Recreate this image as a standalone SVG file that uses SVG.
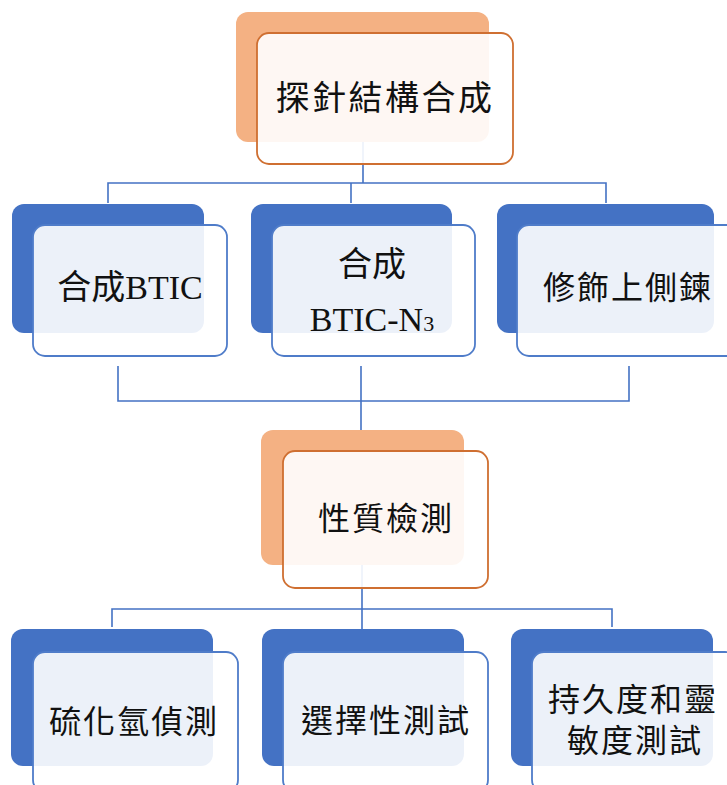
<svg xmlns="http://www.w3.org/2000/svg" width="727" height="785" viewBox="0 0 727 785">
<style>
.bb{fill:#4472C4}
.bo{fill:#F4B183}
.fb{fill:#FFFFFF;fill-opacity:0.9;stroke:#4F7CC9;stroke-width:1.8}
.fo{fill:#FFFFFF;fill-opacity:0.9;stroke:#CF6F31;stroke-width:1.8}
.ln{fill:none;stroke:#4472C4;stroke-width:1.6}
text{font-family:"Liberation Serif","Noto Sans CJK TC",serif;font-size:34px;fill:#111;text-anchor:middle}
.cj{font-size:32px;letter-spacing:2px}
</style>
<rect width="727" height="785" fill="#FFFFFF"/>
<g id="connectors">
<path class="ln" d="M363 141 V183 M108 203 V183 H606 V203 M363 183 H351 V203"/>
<path class="ln" d="M118 366 V401 H629 V366 M361 366 V430"/>
<path class="ln" d="M362 565 V609 M112 627 V609 H612 V627 M362 609 V629"/>
</g>
<g id="n1">
<rect class="bo" x="236" y="12" width="253" height="130" rx="12"/>
<rect class="fo" x="257" y="33" width="256" height="131" rx="12"/>
<text x="385" y="110" font-size="34" letter-spacing="2.5">探針結構合成</text>
</g>
<g id="n2">
<rect class="bb" x="12" y="204" width="192" height="129" rx="12"/>
<rect class="fb" x="33" y="225" width="194" height="131" rx="12"/>
<text x="130" y="299">合成BTIC</text>
</g>
<g id="n3">
<rect class="bb" x="251" y="204" width="201" height="129" rx="12"/>
<rect class="fb" x="272" y="225" width="203" height="131" rx="12"/>
<text x="372" y="276">合成</text>
<text x="372" y="331">BTIC-N<tspan font-size="22">3</tspan></text>
</g>
<g id="n4">
<rect class="bb" x="497" y="204" width="217" height="129" rx="12"/>
<rect class="fb" x="517" y="225" width="222" height="131" rx="12"/>
<text class="cj" x="628" y="299">修飾上側鍊</text>
</g>
<g id="n5">
<rect class="bo" x="261" y="430" width="203" height="135" rx="12"/>
<rect class="fo" x="283" y="451" width="205" height="137" rx="12"/>
<text class="cj" x="386" y="530">性質檢測</text>
</g>
<g id="n6">
<rect class="bb" x="11" y="629" width="202" height="137" rx="12"/>
<rect class="fb" x="33" y="652" width="205" height="140" rx="12"/>
<text class="cj" x="134" y="733">硫化氫偵測</text>
</g>
<g id="n7">
<rect class="bb" x="262" y="629" width="202" height="137" rx="12"/>
<rect class="fb" x="283" y="652" width="205" height="140" rx="12"/>
<text class="cj" x="386" y="732">選擇性測試</text>
</g>
<g id="n8">
<rect class="bb" x="511" y="629" width="202" height="137" rx="12"/>
<rect class="fb" x="532" y="652" width="205" height="140" rx="12"/>
<text class="cj" x="633" y="711">持久度和靈</text>
<text class="cj" x="635" y="752">敏度測試</text>
</g>
</svg>
